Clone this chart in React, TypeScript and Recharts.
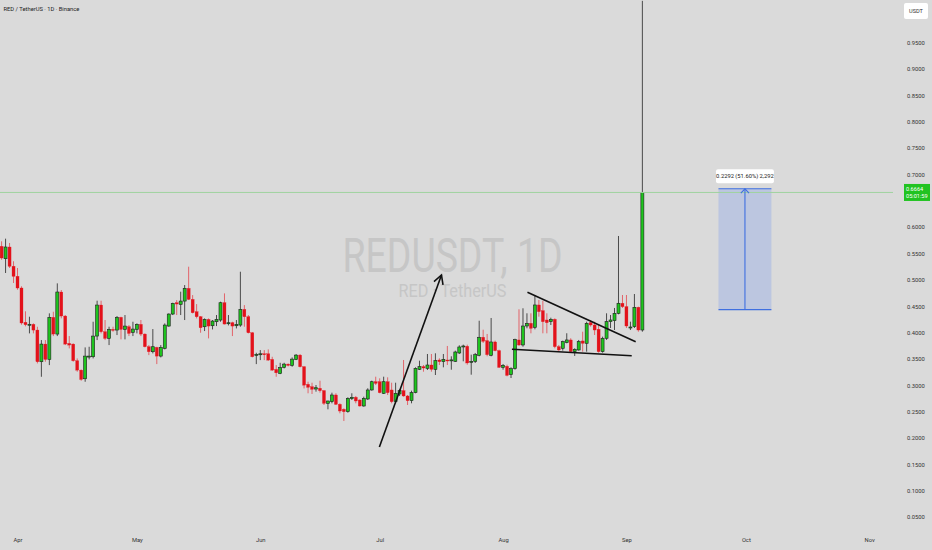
import React from 'react';
import { ComposedChart, Bar, XAxis, YAxis, ReferenceLine, ReferenceArea } from 'recharts';

// Daily candles, first session and consecutive days after it
const firstSession = '2025-03-28';
const axisOrigin = '2025-04-01';

const opens = [
  0.5642, 0.5407, 0.5629, 0.5263,
  0.5073, 0.4851, 0.4200, 0.4155, 0.4161, 0.4053, 0.3452, 0.3787, 0.3496, 0.4294,
  0.3977, 0.4775, 0.4319, 0.3800, 0.3787, 0.3471, 0.3293, 0.3129, 0.3540, 0.3547,
  0.3939, 0.4528, 0.4021, 0.3895, 0.4066, 0.4053, 0.4294, 0.4066, 0.4116, 0.4009,
  0.4066, 0.4161, 0.3977, 0.3737, 0.3642, 0.3724, 0.3559, 0.3705, 0.4129, 0.4357,
  0.4572, 0.4540, 0.4603, 0.4844, 0.4635, 0.4401, 0.4306, 0.4116, 0.4255, 0.4135,
  0.4211, 0.4243, 0.4572, 0.4173, 0.4192, 0.4135, 0.4148, 0.4445, 0.4306, 0.4002,
  0.3585,
  0.3597, 0.3603, 0.3603, 0.3496, 0.3306, 0.3230, 0.3344, 0.3407, 0.3382, 0.3496,
  0.3578, 0.3357, 0.3023, 0.2978, 0.2934, 0.2948, 0.2903, 0.2663, 0.2694, 0.2821,
  0.2644, 0.2549, 0.2504, 0.2751, 0.2777, 0.2726, 0.2612, 0.2745, 0.2916, 0.3073,
  0.3073, 0.2853, 0.3073, 0.2916, 0.2694, 0.2840, 0.2903, 0.2802, 0.2713, 0.2865,
  0.3308, 0.3358, 0.3327, 0.3390, 0.3308, 0.3485, 0.3453, 0.3485, 0.3475, 0.3460,
  0.3618, 0.3745, 0.3745, 0.3453, 0.3460, 0.3574, 0.3916, 0.3852, 0.3574, 0.3827,
  0.3662,
  0.3346, 0.3365, 0.3206, 0.3320, 0.3865, 0.3770, 0.4130, 0.4181, 0.4105, 0.4529,
  0.4420, 0.4244, 0.4212, 0.4257, 0.3738, 0.3707, 0.3814, 0.3865, 0.3643, 0.3675,
  0.3846, 0.3802, 0.4193, 0.4149, 0.4067, 0.3643, 0.3897, 0.4212, 0.4231, 0.4371,
  0.4561,
  0.4497, 0.4092, 0.4117, 0.4485, 0.4054,
];

const highs = [
  0.5737, 0.5787, 0.5705, 0.5358,
  0.5231, 0.4883, 0.4409, 0.4306, 0.4180, 0.4116, 0.3863, 0.3863, 0.4370, 0.4401,
  0.4939, 0.4813, 0.4338, 0.3939, 0.3800, 0.3515, 0.3306, 0.3724, 0.3736, 0.4211,
  0.4610, 0.4610, 0.4243, 0.4116, 0.4116, 0.4319, 0.4306, 0.4338, 0.4148, 0.4211,
  0.4180, 0.4243, 0.3990, 0.3768, 0.4072, 0.3736, 0.3768, 0.4179, 0.4369, 0.4572,
  0.4622, 0.4781, 0.4907, 0.5255, 0.4717, 0.4546, 0.4319, 0.4274, 0.4274, 0.4243,
  0.4338, 0.4591, 0.4749, 0.4338, 0.4211, 0.4243, 0.5160, 0.4527, 0.4338, 0.4015,
  0.3622,
  0.3673, 0.3673, 0.3686, 0.3546, 0.3388, 0.3432, 0.3432, 0.3420, 0.3534, 0.3597,
  0.3597, 0.3369, 0.3073, 0.3054, 0.3010, 0.3092, 0.2916, 0.2713, 0.2865, 0.2853,
  0.2663, 0.2568, 0.2777, 0.2853, 0.2802, 0.2739, 0.2789, 0.2948, 0.3092, 0.3168,
  0.3137, 0.3168, 0.3156, 0.3054, 0.3054, 0.2929, 0.3485, 0.2821, 0.2903, 0.3346,
  0.3472, 0.3390, 0.3599, 0.3599, 0.3612, 0.3517, 0.3599, 0.3751, 0.3555, 0.3662,
  0.3764, 0.3776, 0.3776, 0.3586, 0.3618, 0.4230, 0.4060, 0.3979, 0.4282, 0.3852,
  0.3681,
  0.3409, 0.3396, 0.3346, 0.3889, 0.4447, 0.4466, 0.4371, 0.4371, 0.4719, 0.4624,
  0.4610, 0.4371, 0.4288, 0.4276, 0.3770, 0.3852, 0.3992, 0.3897, 0.3707, 0.3865,
  0.4022, 0.4212, 0.4244, 0.4212, 0.4149, 0.3928, 0.4371, 0.4339, 0.4472, 0.5838,
  0.4718,
  0.4718, 0.4212, 0.4737, 0.4497, 1.0300,
];

const lows = [
  0.5387, 0.5136, 0.5231, 0.4946,
  0.4819, 0.4155, 0.4124, 0.3990, 0.3990, 0.3420, 0.3167, 0.3452, 0.3388, 0.3939,
  0.3939, 0.4275, 0.3768, 0.3705, 0.3452, 0.3262, 0.3091, 0.3072, 0.3496, 0.3515,
  0.3863, 0.3990, 0.3863, 0.3768, 0.4021, 0.3958, 0.3876, 0.3876, 0.3939, 0.3939,
  0.3990, 0.3939, 0.3724, 0.3578, 0.3610, 0.3407, 0.3534, 0.3686, 0.4116, 0.4338,
  0.4338, 0.4338, 0.4243, 0.4622, 0.4369, 0.4274, 0.4002, 0.4034, 0.3895, 0.4065,
  0.4129, 0.4211, 0.4160, 0.4141, 0.3939, 0.4084, 0.4116, 0.4116, 0.3989, 0.3534,
  0.3407,
  0.3483, 0.3483, 0.3470, 0.3280, 0.3167, 0.3217, 0.3325, 0.3363, 0.3357, 0.3483,
  0.3344, 0.2945, 0.2853, 0.2840, 0.2884, 0.2865, 0.2631, 0.2549, 0.2663, 0.2631,
  0.2473, 0.2327, 0.2485, 0.2726, 0.2663, 0.2599, 0.2599, 0.2726, 0.2903, 0.3010,
  0.2853, 0.2840, 0.2821, 0.2663, 0.2663, 0.2802, 0.2789, 0.2631, 0.2663, 0.2853,
  0.3295, 0.3263, 0.3295, 0.3263, 0.3200, 0.3390, 0.3346, 0.3390, 0.3301, 0.3447,
  0.3599, 0.3460, 0.3396, 0.3206, 0.3428, 0.3555, 0.3808, 0.3555, 0.3555, 0.3650,
  0.3333,
  0.3301, 0.3175, 0.3143, 0.3301, 0.3751, 0.3738, 0.4086, 0.3991, 0.4067, 0.4307,
  0.3991, 0.3991, 0.4149, 0.3707, 0.3643, 0.3662, 0.3802, 0.3624, 0.3561, 0.3662,
  0.3643, 0.3643, 0.4117, 0.3959, 0.3624, 0.3624, 0.3865, 0.4092, 0.4054, 0.4352,
  0.4472,
  0.4092, 0.4054, 0.4092, 0.4022, 0.4022,
];

const closes = [
  0.5420, 0.5629, 0.5263, 0.5073,
  0.4851, 0.4187, 0.4155, 0.4163, 0.4053, 0.3452, 0.3787, 0.3496, 0.4294, 0.3977,
  0.4775, 0.4319, 0.3787, 0.3768, 0.3471, 0.3293, 0.3116, 0.3559, 0.3559, 0.3939,
  0.4528, 0.4021, 0.3895, 0.4066, 0.4053, 0.4294, 0.4066, 0.4129, 0.3990, 0.4072,
  0.4161, 0.3977, 0.3737, 0.3642, 0.3737, 0.3559, 0.3724, 0.4148, 0.4357, 0.4559,
  0.4547, 0.4603, 0.4844, 0.4635, 0.4382, 0.4306, 0.4097, 0.4255, 0.4129, 0.4224,
  0.4255, 0.4572, 0.4167, 0.4192, 0.4129, 0.4160, 0.4445, 0.4306, 0.4002, 0.3546,
  0.3591,
  0.3603, 0.3597, 0.3483, 0.3293, 0.3242, 0.3344, 0.3407, 0.3382, 0.3502, 0.3578,
  0.3357, 0.3008, 0.2967, 0.2929, 0.2959, 0.2903, 0.2663, 0.2707, 0.2821, 0.2644,
  0.2517, 0.2504, 0.2758, 0.2777, 0.2707, 0.2612, 0.2758, 0.2916, 0.3073, 0.3042,
  0.2865, 0.3073, 0.2865, 0.2694, 0.2853, 0.2903, 0.2802, 0.2713, 0.2865, 0.3327,
  0.3358, 0.3333, 0.3390, 0.3308, 0.3472, 0.3453, 0.3498, 0.3466, 0.3487, 0.3637,
  0.3732, 0.3751, 0.3428, 0.3460, 0.3586, 0.3916, 0.3840, 0.3586, 0.3827, 0.3662,
  0.3346,
  0.3384, 0.3194, 0.3320, 0.3871, 0.3770, 0.4130, 0.4181, 0.4086, 0.4529, 0.4402,
  0.4212, 0.4193, 0.4257, 0.3738, 0.3675, 0.3833, 0.3865, 0.3643, 0.3688, 0.3833,
  0.3802, 0.4181, 0.4149, 0.4054, 0.3643, 0.3897, 0.4212, 0.4244, 0.4371, 0.4561,
  0.4497,
  0.4130, 0.4111, 0.4485, 0.4054, 0.6664,
];

const monthTicks = [0, 30, 61, 91, 122, 153, 183, 214];
const monthNames = ['Apr', 'May', 'Jun', 'Jul', 'Aug', 'Sep', 'Oct', 'Nov'];
const priceTicks = [
  0.05, 0.1, 0.15, 0.2, 0.25, 0.3, 0.35, 0.4, 0.45, 0.5, 0.55, 0.6,
  0.7, 0.75, 0.8, 0.85, 0.9, 0.95,
];

// Drawings: x in days from Apr 1, y in USDT
const rallyArrow = [{ x: 90.8, y: 0.1834 }, { x: 106.4, y: 0.5098 }];
const wedgeUpper = [{ x: 128.0, y: 0.4771 }, { x: 155.2, y: 0.3832 }];
const wedgeLower = [{ x: 124.1, y: 0.3688 }, { x: 154.2, y: 0.3566 }];
const projectionSpan = [176.0, 189.3];
const projectionBase = 0.4442;
const projectionMove = 0.2292;

const symbolTitle = 'RED / TetherUS · 1D · Binance';
const watermarkMain = 'REDUSDT, 1D';
const watermarkSub = 'RED · TetherUS';
const quoteCurrency = 'USDT';
const barCountdown = '05:01:59';

const W = 932;
const H = 550;
const AXIS_W = 39;
const AXIS_H = 22;
const PX_PER_DAY = 3.98;
const ORIGIN_PX = 18;
const Y_DOMAIN: [number, number] = [0.0297, 1.0316];
const X_DOMAIN: [number, number] = [
  -ORIGIN_PX / PX_PER_DAY,
  (W - AXIS_W - ORIGIN_PX) / PX_PER_DAY,
];

const BG = '#dadada';
const UP = '#1ec41e';
const DOWN = '#e3121b';
const FONT = 'Roboto, "DejaVu Sans", sans-serif';

const dayMs = 86400000;
const firstOffset = Math.round((Date.parse(firstSession) - Date.parse(axisOrigin)) / dayMs);

const candles = opens.map((o, i) => ({
  day: firstOffset + i,
  o,
  h: highs[i],
  l: lows[i],
  c: closes[i],
  range: [lows[i], highs[i]],
}));

const lastClose = closes[closes.length - 1];

function Candle(props: any) {
  const { x, y, width, height, payload } = props;
  if (!payload || x == null) return null;
  const { o, h, l, c } = payload;
  const top = Math.min(y, y + height);
  const span = Math.abs(height);
  const toPx = (v: number) => top + ((h - v) / (h - l || 1)) * span;
  const cx = x + width / 2;
  const up = c >= o;
  const bTop = toPx(Math.max(o, c));
  const bBot = toPx(Math.min(o, c));
  const bh = Math.max(bBot - bTop, 1);
  return (
    <g>
      <line x1={cx} x2={cx} y1={toPx(h)} y2={toPx(l)} stroke={up ? '#4a4a4a' : '#e2646a'} strokeWidth={1} />
      <rect
        x={cx - 1.5}
        y={bTop}
        width={3}
        height={bh}
        fill={up ? UP : DOWN}
        stroke={up ? '#1d1d1d' : DOWN}
        strokeWidth={up ? 0.6 : 0.3}
      />
    </g>
  );
}

function arrowHead(x1: number, y1: number, x2: number, y2: number, len: number, spread: number) {
  const ang = Math.atan2(y2 - y1, x2 - x1);
  const a1 = ang + Math.PI - spread;
  const a2 = ang + Math.PI + spread;
  return `M${x2 + len * Math.cos(a1)},${y2 + len * Math.sin(a1)} L${x2},${y2} L${x2 + len * Math.cos(a2)},${y2 + len * Math.sin(a2)}`;
}

const RallyArrow = (props: any) => {
  const { x1, y1, x2, y2 } = props;
  return (
    <g>
      <line x1={x1} y1={y1} x2={x2} y2={y2} stroke="#111" strokeWidth={1.6} />
      <path d={arrowHead(x1, y1, x2, y2, 10, 0.5)} fill="none" stroke="#111" strokeWidth={1.6} />
    </g>
  );
};

const ProjectionArrow = (props: any) => {
  const { x1, y1, x2, y2 } = props;
  return (
    <g>
      <line x1={x1} y1={y1} x2={x2} y2={y2} stroke="#3f6fe0" strokeWidth={1.1} />
      <path d={arrowHead(x1, y1, x2, y2, 6, 0.75)} fill="none" stroke="#3f6fe0" strokeWidth={1.1} />
    </g>
  );
};

const projectionText = `${projectionMove.toFixed(4)} (${((projectionMove / projectionBase) * 100).toFixed(2)}%) ${Math.round(
  projectionMove * 10000
).toLocaleString('en-US')}`;

const ProjectionLabel = (props: any) => {
  const vb = props.viewBox || {};
  const { x, y, width } = vb;
  if (x == null) return null;
  return (
    <g>
      <rect x={x - 2.5} y={y - 19.5} width={width + 5} height={14} rx={2} fill="#ffffff" />
      <text x={x + width / 2} y={y - 10.3} textAnchor="middle" fontSize={5.8} fill="#222" fontFamily={FONT}>
        {projectionText}
      </text>
    </g>
  );
};

const PriceTag = (props: any) => {
  const vb = props.viewBox || {};
  const { x, y, width } = vb;
  if (x == null) return null;
  const left = x + width + 11;
  return (
    <g>
      <rect x={left} y={y - 8.5} width={26} height={17} fill="#21c321" />
      <text x={left + 2} y={y - 1.3} fontSize={5.6} fill="#ffffff" fontFamily={FONT}>
        {lastClose.toFixed(4)}
      </text>
      <text x={left + 2} y={y + 5.6} fontSize={5.6} fill="#ffffff" fontFamily={FONT}>
        {barCountdown}
      </text>
    </g>
  );
};

const PriceTick = (props: any) => {
  const { x, y, payload } = props;
  return (
    <text x={x} y={y + 2} fontSize={5.8} fill="#333" fontFamily={FONT}>
      {Number(payload.value).toFixed(4)}
    </text>
  );
};

const MonthTick = (props: any) => {
  const { x, y, payload } = props;
  const idx = monthTicks.indexOf(payload.value);
  return (
    <text x={x} y={y + 6} textAnchor="middle" fontSize={5.8} fill="#333" fontFamily={FONT}>
      {monthNames[idx]}
    </text>
  );
};

export default function App() {
  const plotW = W - AXIS_W;
  return (
    <div style={{ position: 'absolute', left: 0, top: 0, width: W, height: H, background: BG, overflow: 'hidden' }}>
      <svg width={W} height={H} style={{ position: 'absolute', left: 0, top: 0 }}>
        <text
          x={plotW / 2 + 6}
          y={272}
          textAnchor="middle"
          fontSize={48}
          fill="#c6c6c6"
          fontFamily={FONT}
          textLength={220}
          lengthAdjust="spacingAndGlyphs"
        >
          {watermarkMain}
        </text>
        <text
          x={plotW / 2 + 6}
          y={297}
          textAnchor="middle"
          fontSize={19}
          fill="#c6c6c6"
          fontFamily={FONT}
          textLength={108}
          lengthAdjust="spacingAndGlyphs"
        >
          {watermarkSub}
        </text>
      </svg>
      <div style={{ position: 'absolute', left: 0, top: 0 }}>
        <ComposedChart width={W} height={H} data={candles} margin={{ top: 0, right: 0, bottom: 0, left: 0 }}>
          <XAxis
            dataKey="day"
            type="number"
            domain={X_DOMAIN}
            allowDataOverflow
            ticks={monthTicks}
            interval={0}
            tick={<MonthTick />}
            tickLine={false}
            axisLine={false}
            height={AXIS_H}
          />
          <YAxis
            orientation="right"
            type="number"
            domain={Y_DOMAIN}
            allowDataOverflow
            ticks={priceTicks}
            interval={0}
            tick={<PriceTick />}
            tickLine={false}
            axisLine={false}
            tickSize={6}
            tickMargin={8}
            width={AXIS_W}
          />
          <ReferenceLine y={lastClose} stroke="#9fd39f" strokeWidth={1} label={<PriceTag />} />
          <Bar dataKey="range" barSize={3} shape={<Candle />} isAnimationActive={false} />
          <ReferenceLine segment={wedgeUpper} stroke="#111" strokeWidth={1.6} />
          <ReferenceLine segment={wedgeLower} stroke="#111" strokeWidth={1.6} />
          <ReferenceLine segment={rallyArrow} shape={<RallyArrow />} />
          <ReferenceArea
            x1={projectionSpan[0]}
            x2={projectionSpan[1]}
            y1={projectionBase}
            y2={projectionBase + projectionMove}
            fill="#2962ff"
            fillOpacity={0.17}
            stroke="none"
            label={<ProjectionLabel />}
          />
          <ReferenceLine
            segment={[
              { x: projectionSpan[0], y: projectionBase + projectionMove },
              { x: projectionSpan[1], y: projectionBase + projectionMove },
            ]}
            stroke="#3f6fe0"
            strokeWidth={1.2}
          />
          <ReferenceLine
            segment={[
              { x: projectionSpan[0], y: projectionBase },
              { x: projectionSpan[1], y: projectionBase },
            ]}
            stroke="#3f6fe0"
            strokeWidth={1.2}
          />
          <ReferenceLine
            segment={[
              { x: (projectionSpan[0] + projectionSpan[1]) / 2, y: projectionBase },
              { x: (projectionSpan[0] + projectionSpan[1]) / 2, y: projectionBase + projectionMove },
            ]}
            shape={<ProjectionArrow />}
          />
        </ComposedChart>
      </div>
      <svg width={W} height={H} style={{ position: 'absolute', left: 0, top: 0, pointerEvents: 'none' }}>
        <text x={3.5} y={11} fontSize={5.8} fill="#222" fontFamily={FONT}>
          {symbolTitle}
        </text>
        <rect x={904} y={3} width={24} height={16} rx={2} fill="#ffffff" />
        <text x={916} y={13} textAnchor="middle" fontSize={5.6} fill="#333" fontFamily={FONT}>
          {quoteCurrency}
        </text>
      </svg>
    </div>
  );
}
